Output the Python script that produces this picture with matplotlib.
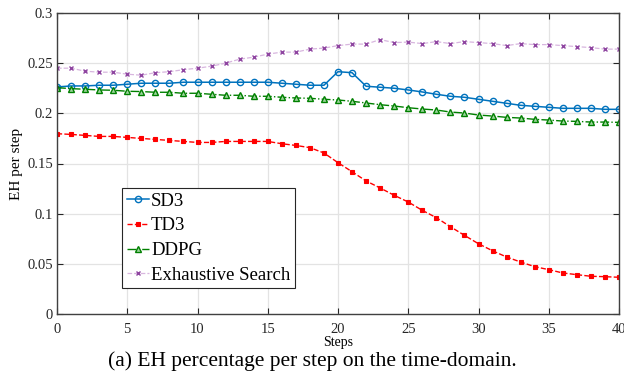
import matplotlib
matplotlib.use("Agg")
import matplotlib.pyplot as plt
import numpy as np

plt.rcParams["font.family"] = ["Liberation Serif", "DejaVu Serif"]

steps = list(range(41))

sd3 = [0.2263, 0.2273, 0.2273, 0.228, 0.228, 0.229, 0.230, 0.230, 0.230, 0.231,
       0.231, 0.231, 0.231, 0.231, 0.231, 0.231, 0.230, 0.229, 0.228, 0.228,
       0.2415, 0.2405, 0.227, 0.226, 0.225, 0.2233, 0.2213, 0.219, 0.217, 0.216,
       0.214, 0.212, 0.210, 0.208, 0.207, 0.206, 0.205, 0.205, 0.205, 0.204,
       0.204]

td3 = [0.1797, 0.179, 0.178, 0.177, 0.177, 0.176, 0.175, 0.174, 0.173, 0.172,
       0.171, 0.171, 0.172, 0.172, 0.172, 0.172, 0.1697, 0.168, 0.1658, 0.1605,
       0.1508, 0.1418, 0.1326, 0.1256, 0.1183, 0.1116, 0.1033, 0.096, 0.087, 0.0784,
       0.070, 0.063, 0.0568, 0.0518, 0.0472, 0.0442, 0.0409, 0.0392, 0.0376, 0.0372,
       0.0366]

ddpg = [0.2256, 0.2246, 0.224, 0.2233, 0.223, 0.222, 0.2217, 0.221, 0.221, 0.220,
        0.220, 0.219, 0.218, 0.218, 0.217, 0.217, 0.216, 0.2153, 0.215, 0.214,
        0.2133, 0.212, 0.2103, 0.2086, 0.2073, 0.2056, 0.2043, 0.2033, 0.2013, 0.2003,
        0.1983, 0.1973, 0.196, 0.1953, 0.194, 0.1933, 0.1923, 0.192, 0.1913, 0.1913,
        0.191]

exhaustive = [0.245, 0.245, 0.242, 0.241, 0.241, 0.239, 0.238, 0.2405, 0.2415, 0.2435,
              0.245, 0.247, 0.250, 0.254, 0.256, 0.259, 0.261, 0.261, 0.264, 0.265,
              0.2675, 0.269, 0.269, 0.2735, 0.2705, 0.271, 0.2695, 0.2715, 0.2695, 0.2715,
              0.2705, 0.2695, 0.2675, 0.2695, 0.2685, 0.2685, 0.2675, 0.2665, 0.2655, 0.264,
              0.264]

fig = plt.figure(figsize=(6.24, 3.77), dpi=100)
ax = fig.add_axes([57 / 624, 1 - 314 / 377, 562 / 624, 301 / 377])

ax.plot(steps, sd3, "-o", color="#0072BD", lw=1.1, ms=4.5, mfc="none", mew=1.0,
        label="SD3")
ax.plot(steps, td3, "--s", color="#FF0000", lw=1.0, ms=3, mew=0.8, label="TD3")
ax.plot(steps, ddpg, "-.^", color="#008000", lw=1.0, ms=4.5, mfc="#9fd49f", mew=1.0,
        label="DDPG")
ax.plot(steps, exhaustive, "--x", color="#D8B6DF", lw=0.9, ms=3.5, mew=1.0,
        mec="#8E44A0", label="Exhaustive Search")

ax.set_xlim(0, 40)
ax.set_ylim(0, 0.3)
ax.set_xticks(np.arange(0, 41, 5))
ax.set_yticks([0, 0.05, 0.1, 0.15, 0.2, 0.25, 0.3])
ax.set_yticklabels(["0", "0.05", "0.1", "0.15", "0.2", "0.25", "0.3"])
ax.tick_params(direction="in", top=True, right=True, labelsize=10.5, colors="#262626",
               length=4, width=0.8, pad=3)
ax.tick_params(axis="x", pad=6.5)
ax.grid(True, color="#E3E3E3", lw=0.9)
ax.set_axisbelow(True)
for sp in ax.spines.values():
    sp.set_color("#404040")
    sp.set_linewidth(1.0)

ax.set_xlabel("Steps", fontsize=10, labelpad=0)
ax.set_ylabel("EH per step", fontsize=11, labelpad=3)

leg = ax.legend(loc="upper left", bbox_to_anchor=(65 / 562, (314 - 188) / 301),
                fontsize=13.5, handlelength=1.2, handletextpad=0.1, borderpad=0.25,
                labelspacing=0.4, borderaxespad=0, fancybox=False, framealpha=1)
leg.get_frame().set_edgecolor("#262626")
leg.get_frame().set_linewidth(0.8)

fig.text(0.5, 1 - 361 / 377, "(a) EH percentage per step on the time-domain.",
         ha="center", va="center", fontsize=15.5)

fig.savefig("out.png", dpi=100)
